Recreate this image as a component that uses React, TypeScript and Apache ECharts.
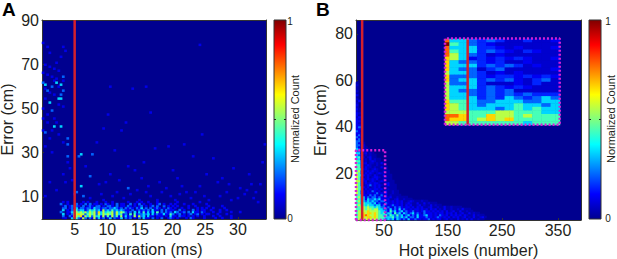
import React, { useEffect, useRef } from "react";
import * as echarts from "echarts";

const FONT = "'Liberation Sans', Arial, sans-serif";
const TEXT = "#231f20";
const JET: [number, string][] = [
  [0, "#00008f"], [0.125, "#0000ff"], [0.375, "#00ffff"], [0.625, "#ffff00"], [0.875, "#ff0000"], [1, "#800000"],
];
const LEVEL: Record<string, number> = { a: 0.035, b: 0.07, c: 0.16 };

// Panel A — rows bottom-up, one char per 1/100 of the axis
const aRows = [
  "000000000b10030421520215131201302113021201020311020102001210100010210000100001001000100000000000000003",
  "000000000200215546153525341514152415131215152303110111010311021101010100100010010000100000000000000003",
  "000000000301024565524545253545452534120404122323031211311420120101201201011000100010000000000000000004",
  "000000002001134545453545263534452535421203031413130402021203201202031102100010010000100010000000000003",
  "000000000301022423312434231523242323211020121212031102021110020100020101100100010010000000000000000003",
  "000000000220121302212213221221223212021210213020201210102101001001000101010010000100000000000000000002",
  "000000000b20120210201210220102210201102101012010120200201010100001001000001000001000000000000000000000",
  "000000002001000201020201101021010201100201020100100120100101000100010000010000000000000000000000",
  "000000000101000000101000100010010000001000101001000100000000100000000010000000000000000000000000000",
];
const aBright: [number, number, number][] = [
  [1, 67, 3], [6, 68, 3], [8, 67, 3], [3, 58, 3], [7, 60, 3], [8, 60, 3], [5, 46, 3], [8, 46, 3], [1, 43, 2],
  [4, 54, 2], [17, 32, 3], [22, 32, 2], [17, 16, 3], [21, 21, 2], [11, 37, 2], [11, 40, 2], [11, 31, 2], [16, 31, 2],
  [2, 64, 2], [4, 66, 2], [9, 71, 2], [9, 64, 2], [8, 62, 2], [0, 68, 2], [38, 15, 2], [15, 13, 2], [18, 11, 2],
];
const aDim: [number, number][] = [
  [0, 88], [2, 86], [9, 86], [10, 84], [8, 81], [1, 77], [3, 76], [5, 75], [7, 74], [0, 73], [2, 72], [4, 71], [6, 70], [9, 69],
  [1, 65], [3, 63], [5, 62], [7, 57], [0, 55], [2, 52], [5, 50], [9, 56], [6, 48], [0, 44], [3, 40], [7, 42], [9, 38], [1, 36],
  [4, 33], [11, 28], [12, 25], [9, 22], [3, 18], [6, 14], [1, 11], [10, 18], [13, 19], [14, 12], [30, 66], [40, 65], [46, 66],
  [27, 45], [35, 44], [45, 28], [48, 53], [70, 87], [71, 42], [30, 22], [38, 26], [44, 20], [52, 18], [58, 24], [63, 37], [76, 30],
  [85, 25], [92, 22], [98, 28], [99, 37], [25, 17], [33, 13], [42, 14], [48, 11], [55, 15], [61, 12], [66, 10], [70, 16], [74, 9],
  [78, 18], [82, 13], [88, 15], [94, 10], [97, 17], [19, 26], [24, 38], [32, 34], [50, 35], [56, 36], [67, 31], [80, 20], [90, 12],
  [21, 10], [27, 9], [36, 10], [43, 9], [51, 9], [59, 9], [64, 13], [72, 11], [84, 9], [91, 14], [96, 8], [29, 52], [37, 48],
  [2, 48], [4, 44], [6, 78], [3, 83], [5, 69], [7, 66], [1, 60], [0, 50], [28, 18], [34, 19], [41, 24], [47, 16], [53, 13], [57, 11],
  [62, 16], [68, 13], [73, 22], [79, 11], [83, 17], [87, 10], [93, 17], [95, 13], [26, 12], [31, 11], [39, 12], [46, 13], [60, 20],
];

// Panel B — rows bottom-up, 1/100 of the axis per char
const bRows = [
  "45555655554432323132121311211b112b1b11ab1abaa1aba1a1aabaa",
  "4556566565444333423232312213111211b121b1b1a1b1ab1aba1aab1a",
  "4556765565443424324231231213112311b1b21b1a1b1b1a1baa1abaa",
  "45565665654342331423132123121b2111b1b11a1b1a1ab1aa1abaa",
  "45555655554332142312312112b1b1211b1b1b1a1ab1aa1aabaa",
  "44554554553322131213121b1b11b1b1a1b1aba1aabaaba1aaa",
  "4455454434322121b2121b11b1a1b1aab1aabaa1aabaaaa",
  "45443433233121b1211b1a1b1aab1abaa1abaa",
  "443433323121b21b1b1b1ab1baa1aa1abaaa",
  "4533232322122b1b1b1b1aab1baaabaa",
  "4433132232311b1aab1aabaaa",
  "453312122121b1b1aabaaaa",
  "44311b2121b2b1abaaaa",
  "5421b11b12b1b1aabaa",
  "5421b1b21b1ab1aabaa",
  "543a1b1b11b1aabaaa",
  "5431b1ab1b1aabaaaa",
  "542ab12b1b1baa1aaa",
  "542a1b1b11baab1aa",
  "552b1ab1bab1baaaa",
  "5421b1b1b1aabaaa",
  "542ab1ab11baabaa",
  "5431b1ba1baa1aaa",
  "542a1b1bab1baaa",
  "452ab1b1bbaabaa",
  "443b1bab1baaaa",
  "442a1bbabaa1aa",
  "442ab1baabaa",
  "432b1abbaba1a",
  "442abab1baa",
  "331aba1abaa",
  "341bab1aa",
  "321ababaa",
  "33ab1aba",
  "221abaa",
  "32baba",
  "21aba",
  "22ab",
  "21ba",
  "22a",
  "12a",
  "21b",
  "12a",
  "11b",
  "21a",
  "11",
  "12",
  "11",
  "1b",
  "11",
  "1b",
  "b1",
  "1a",
  "1b",
  "ba",
  "1a",
  "b",
  "1",
  "b",
  "a1",
  "b",
  "a",
  "1",
  "a",
  "b",
  "a",
  "a",
  "b",
  "a",
];

// Inset — rows top-down; the first column is half as wide as the others
const insetRows = [
  "7332c2cbbcbb1", "9432c1bbbbbbb", "7333cc1b1bbb1", "7433c2c1bc1bb", "7532cb1bbbbbb", "6531c1c1c1bb1",
  "6322c1cbb1bbb", "6333c2c2cb1bb", "6322bc2bbbbb1", "5332cb1b1bbbb", "6222c1cc1c1c1", "6233c2c21bc2b",
  "5223cbbb1bcbb", "5333c2c1c1bbb", "5322c2c2bbbbb", "5332c2c2c2ccc", "5333c2c32c232", "6443223332233",
  "6543233343323", "6543332343433", "5554445544433", "7764465545444", "7664565644444", "5544444443444",
];

const aXRange = [0, 34.3];
const aYRange = [0, 90];
const aXTicks = [5, 10, 15, 20, 25, 30];
const aYTicks = [10, 30, 50, 70, 90];
const bXRange = [0, 402];
const bYRange = [0, 86];
const bXTickPositions = [50, 164, 261, 361];
const bXTickLabels = ["50", "150", "250", "350"];
const bYTicks = [20, 40, 60, 80];

const aThreshold = 5;
const bThreshold = 11;
const insetThreshold = 199.5;
const zoomLow: [number, number][] = [[0, 0], [0, 30], [52, 30], [52, 0], [0, 0]];
const zoomInset: [number, number][] = [[159, 41], [159, 78], [364, 78], [364, 41], [159, 41]];

const val = (ch: string) => (ch in LEVEL ? LEVEL[ch] : Number(ch) / 9);
const fromRows = (rows: string[]) => {
  const out: number[][] = [];
  rows.forEach((s, r) => s.split("").forEach((ch, c) => { if (ch !== "0" && c < 100) out.push([c, r, val(ch)]); }));
  return out;
};
const range = (n: number) => Array.from({ length: n }, (_, i) => String(i));

const aData = [
  ...fromRows(aRows),
  ...aDim.map(([c, r]) => [c, r, 0.1]),
  ...aBright.map(([c, r, d]) => [c, r, d / 9]),
];
const bData = fromRows(bRows);
const insetData: number[][] = [];
insetRows.forEach((s, r) => s.split("").forEach((ch, c) => {
  if (c === 0) insetData.push([0, 23 - r, val(ch)]);
  else { insetData.push([2 * c - 1, 23 - r, val(ch)]); insetData.push([2 * c, 23 - r, val(ch)]); }
}));

const NAME_SIZE = 16;
const TICK_SIZE = 16;
const valueX = (gridIndex: number, r: number[], customValues: number[], formatter: any, name: string) => ({
  type: "value", gridIndex, min: r[0], max: r[1], name, nameLocation: "middle", nameGap: 18,
  nameTextStyle: { fontFamily: FONT, fontSize: NAME_SIZE, color: TEXT, verticalAlign: "top" },
  splitLine: { show: false },
  axisLine: { show: true, lineStyle: { color: "#333", width: 1 } },
  axisTick: { show: true, inside: true, length: 2, customValues, lineStyle: { color: "#333" } },
  axisLabel: { customValues, formatter, fontFamily: FONT, fontSize: TICK_SIZE, color: TEXT, margin: 2 },
});
const valueY = (gridIndex: number, r: number[], customValues: number[]) => ({
  type: "value", gridIndex, min: r[0], max: r[1], name: "Error (cm)", nameLocation: "middle",
  nameTextStyle: { fontFamily: FONT, fontSize: NAME_SIZE, color: TEXT },
  nameGap: gridIndex === 0 ? 27 : 28,
  splitLine: { show: false },
  axisLine: { show: true, lineStyle: { color: "#333", width: 1 } },
  axisTick: { show: true, inside: true, length: 2, customValues, lineStyle: { color: "#333" } },
  axisLabel: { customValues, fontFamily: FONT, fontSize: TICK_SIZE, color: TEXT, margin: 3, showMinLabel: true, showMaxLabel: true },
});
const catAxis = (gridIndex: number, n: number, position: string, show: boolean) => ({
  type: "category", gridIndex, data: range(n), position,
  axisLine: { show, onZero: false, lineStyle: { color: "#333", width: 1 } }, axisTick: { show: false }, axisLabel: { show: false }, splitLine: { show: false },
});
const heat = (i: number, data: number[][], z: number) => ({
  type: "heatmap", xAxisIndex: i, yAxisIndex: i, data, z, progressive: 0, itemStyle: { borderWidth: 0 }, emphasis: { disabled: true },
});
const lineS = (i: number, data: number[][], color: string, type: any, z: number) => ({
  type: "line", xAxisIndex: i, yAxisIndex: i, data, showSymbol: false, symbol: "none", z, silent: true,
  lineStyle: { color, width: 2.5, type }, clip: false,
});

const colorbar = (x: number, labelX: number, nameX: number) => {
  const fill = new echarts.graphic.LinearGradient(0, 1, 0, 0, JET.map(([offset, color]) => ({ offset, color })));
  const t = (style: any, extra: any = {}) => ({ type: "text", silent: true, style: { fontFamily: FONT, fill: TEXT, ...style }, ...extra });
  return [
    { type: "rect", shape: { x, y: 20, width: 12, height: 199 }, style: { fill, stroke: "#333", lineWidth: 1 } },
    { type: "line", shape: { x1: x, y1: 119.5, x2: x + 2, y2: 119.5 }, style: { stroke: "#222", lineWidth: 1 } },
    { type: "line", shape: { x1: x + 10, y1: 119.5, x2: x + 12, y2: 119.5 }, style: { stroke: "#222", lineWidth: 1 } },
    t({ text: "1", x: labelX, y: 21, fontSize: 10, align: "center", verticalAlign: "middle" }),
    t({ text: "0", x: labelX, y: 218, fontSize: 10, align: "center", verticalAlign: "middle" }),
    t({ text: "Normalized Count", x: 0, y: 0, fontSize: 11, align: "center", verticalAlign: "middle" }, { x: nameX, y: 119, rotation: Math.PI / 2 }),
  ];
};

export default function App() {
  const ref = useRef<HTMLDivElement>(null);
  useEffect(() => {
    document.body.style.margin = "0";
    const chart = echarts.init(ref.current!, undefined, { renderer: "svg" });
    chart.setOption({
      animation: false,
      backgroundColor: "#fff",
      visualMap: { show: false, min: 0, max: 1, seriesIndex: [0, 1, 2], inRange: { color: ["#00008f", "#0000ff", "#0080ff", "#00ffff", "#80ff80", "#ffff00", "#ff8000", "#ff0000", "#800000"] } },
      grid: [
        { left: 42, top: 20, width: 224, height: 199, show: true, backgroundColor: "#00008f", borderWidth: 0, outerBoundsMode: "none" },
        { left: 356, top: 20, width: 225, height: 200, show: true, backgroundColor: "#00008f", borderWidth: 0, outerBoundsMode: "none" },
        { left: 445, top: 39, width: 115, height: 86, show: false, outerBoundsMode: "none" },
      ],
      xAxis: [
        valueX(0, aXRange, aXTicks, undefined, "Duration (ms)"),
        valueX(1, bXRange, bXTickPositions, (v: number) => bXTickLabels[bXTickPositions.indexOf(v)] ?? "", "Hot pixels (number)"),
        catAxis(0, 100, "top", true),
        catAxis(1, 100, "top", true),
        catAxis(2, 25, "top", false),
      ],
      yAxis: [
        valueY(0, aYRange, aYTicks),
        valueY(1, bYRange, bYTicks),
        catAxis(0, 100, "right", true),
        catAxis(1, 100, "right", true),
        catAxis(2, 24, "right", false),
      ],
      series: [
        heat(2, aData, 2),
        heat(3, bData, 2),
        heat(4, insetData, 3),
        lineS(0, [[aThreshold, aYRange[0]], [aThreshold, aYRange[1]]], "#d4202c", "solid", 5),
        lineS(1, [[bThreshold, bYRange[0]], [bThreshold, bYRange[1]]], "#d4202c", "solid", 5),
        lineS(1, [[insetThreshold, 41], [insetThreshold, 78]], "#d4202c", "solid", 5),
        lineS(1, zoomLow, "#d61fd6", [2, 2], 6),
        lineS(1, zoomInset, "#d61fd6", [2, 2], 6),
      ],
      graphic: [
        ...colorbar(274, 290, 295),
        ...colorbar(589, 608, 611),
        { type: "text", x: 2, y: 0, style: { text: "A", fontFamily: FONT, fontWeight: "bold", fontSize: 19, fill: "#000" } },
        { type: "text", x: 316, y: 0, style: { text: "B", fontFamily: FONT, fontWeight: "bold", fontSize: 19, fill: "#000" } },
      ],
    });
    return () => chart.dispose();
  }, []);
  return <div ref={ref} style={{ width: 617, height: 259 }} />;
}
